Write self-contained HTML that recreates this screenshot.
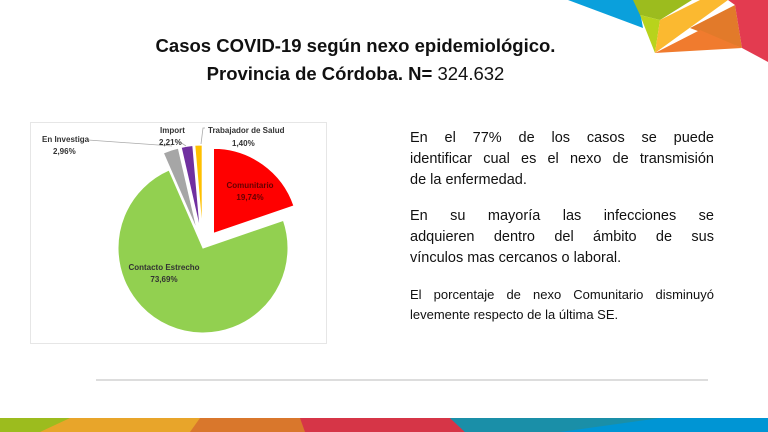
<!DOCTYPE html>
<html><head><meta charset="utf-8"><style>
body{margin:0;width:768px;height:432px;overflow:hidden;background:#fff;font-family:"Liberation Sans",sans-serif;position:relative}
.t{position:absolute;left:143px;width:425px;text-align:center;font-weight:bold;font-size:18.5px;color:#111}
.l{position:absolute;left:410px;width:304px;color:#111;white-space:nowrap}
.j{text-align:justify;text-align-last:justify}
.a{font-size:14.5px}
.b{font-size:13px}
</style></head><body>
<svg width="768" height="432" style="position:absolute;left:0;top:0">
<polygon points="568,0 638,0 643,28" fill="#0aa0dc"/>
<polygon points="633,0 692,0 660,20 640,15" fill="#9cbc1e"/>
<polygon points="640,15 660,20 655,53" fill="#b8d31c"/>
<polygon points="660,20 700,0 728,0 655,53" fill="#fbb930"/>
<polygon points="690,28 735,5 742,48" fill="#e27a2a"/>
<polygon points="655,53 700,30 742,48" fill="#f07b2e"/>
<polygon points="728,0 768,0 768,62 742,48 735,5" fill="#e33b50"/>
<rect x="0" y="418" width="768" height="14" fill="#0095d4"/>
<polygon points="0,418 80,418 60,432 0,432" fill="#9cbc1e"/>
<polygon points="70,418 210,418 195,432 40,432" fill="#e8a52a"/>
<polygon points="200,418 305,418 310,432 190,432" fill="#d9772c"/>
<polygon points="300,418 450,418 465,432 305,432" fill="#d63547"/>
<polygon points="450,418 660,418 560,432 465,432" fill="#1a8fa8"/>
<line x1="96" y1="380" x2="708" y2="380" stroke="#bbb" stroke-width="1"/>
<rect x="30.5" y="122.5" width="296" height="221" fill="#fff" stroke="#e6e6e6"/>
<path d="M213.5,233.4 L213.5,148.4 A85,85 0 0 1 293.9,205.8 Z" fill="#ff0000" stroke="#fff" stroke-width="1"/>
<path d="M203,248 L283.4,220.4 A85,85 0 1 1 169,170.1 Z" fill="#92d050" stroke="#fff" stroke-width="1"/>
<path d="M197.35,230.9 L163.35,153 A85,85 0 0 1 178.3,148.1 Z" fill="#a6a6a6" stroke="#fff" stroke-width="1"/>
<path d="M200.2,230.2 L181.2,147.4 A85,85 0 0 1 192.8,145.5 Z" fill="#7030a0" stroke="#fff" stroke-width="1"/>
<path d="M202.2,230 L194.8,145.3 A85,85 0 0 1 202.2,145 Z" fill="#ffc000" stroke="#fff" stroke-width="1"/>
<polyline points="88,140 172,146" fill="none" stroke="#aaa" stroke-width="0.8"/>
<polyline points="180,142 186,146" fill="none" stroke="#aaa" stroke-width="0.8"/>
<polyline points="205,128 203,128 201,144" fill="none" stroke="#aaa" stroke-width="0.8"/>
<g font-family="Liberation Sans" font-weight="bold" font-size="8" fill="#333">
<text x="42" y="142">En Investiga</text>
<text x="53" y="154">2,96%</text>
<text x="160" y="133">Import</text>
<text x="159" y="145">2,21%</text>
<text x="208" y="133">Trabajador de Salud</text>
<text x="232" y="146">1,40%</text>
<text x="250" y="188" text-anchor="middle" fill="#600">Comunitario</text>
<text x="250" y="200" text-anchor="middle" fill="#600">19,74%</text>
<text x="164" y="270" text-anchor="middle">Contacto Estrecho</text>
<text x="164" y="282" text-anchor="middle">73,69%</text>
</g>
</svg>
<div class="t" style="top:35px">Casos COVID-19 según nexo epidemiológico.</div>
<div class="t" style="top:63px">Provincia de Córdoba. N= <span style="font-weight:normal">324.632</span></div>
<div class="l a j" style="top:130px">En el 77% de los casos se puede</div>
<div class="l a j" style="top:151px">identificar cual es el nexo de transmisión</div>
<div class="l a" style="top:172px">de la enfermedad.</div>
<div class="l a j" style="top:208px">En su mayoría las infecciones se</div>
<div class="l a j" style="top:229px">adquieren dentro del ámbito de sus</div>
<div class="l a" style="top:250px">vínculos mas cercanos o laboral.</div>
<div class="l b j" style="top:287px">El porcentaje de nexo Comunitario disminuyó</div>
<div class="l b" style="top:307px">levemente respecto de la última SE.</div>
</body></html>
